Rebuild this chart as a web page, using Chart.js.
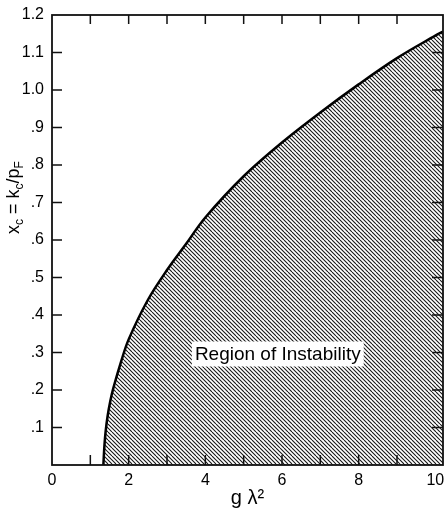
<!DOCTYPE html>
<html>
<head>
<meta charset="utf-8">
<script src="https://cdn.jsdelivr.net/npm/chart.js@4.4.1/dist/chart.umd.min.js"></script>
<style>
  body { margin: 0; background: #fff; }
  canvas { display: block; }
</style>
</head>
<body>
<canvas id="stabilityChart" width="445" height="515"></canvas>
<script>
// boundary curve (g*lambda^2 on x, x_c on y)
const gLambda2 = [1.34, 1.35, 1.37, 1.40, 1.45, 1.52, 1.6, 1.8, 2.0, 2.5, 3.0, 3.5, 4.0, 5.0, 6.0, 7.0, 8.0, 9.0, 10.0, 10.2];
const xcValues = [0, 0.02, 0.055, 0.09, 0.13, 0.17, 0.205, 0.275, 0.335, 0.44, 0.52, 0.59, 0.66, 0.77, 0.86, 0.94, 1.015, 1.085, 1.145, 1.156];

// axis ticks
const xLabelTicks = [0, 2, 4, 6, 8, 10];
const xMinorTicks = [1, 2, 3, 4, 5, 6, 7, 8, 9];
const yTickValues = [0.1, 0.2, 0.3, 0.4, 0.5, 0.6, 0.7, 0.8, 0.9, 1.0, 1.1, 1.2];
const yTickLabels = ['.1', '.2', '.3', '.4', '.5', '.6', '.7', '.8', '.9', '1.0', '1.1', '1.2'];

const regionLabel = 'Region of Instability';
const regionLabelAt = { x: 5.89, y: 0.296 };

const FONT = '"Liberation Sans", Arial, sans-serif';
Chart.defaults.font.family = FONT;
Chart.defaults.color = '#000';

// diagonal hatching for the unstable region
function makeHatch() {
  const c = document.createElement('canvas');
  c.width = 8; c.height = 8;
  const g = c.getContext('2d');
  g.strokeStyle = '#1a1a1a';
  g.lineWidth = 1.1;
  g.beginPath();
  for (let k = -8; k <= 8; k += 4) {
    g.moveTo(k, 0);
    g.lineTo(k + 8, 8);
  }
  g.stroke();
  return g.createPattern(c, 'repeat');
}

// frame with inward ticks, the region label and the y title
const frameAndLabels = {
  id: 'frameAndLabels',
  afterDatasetsDraw(chart) {
    const { ctx, chartArea: a, scales: { x, y } } = chart;
    ctx.save();
    ctx.strokeStyle = '#111';
    ctx.lineWidth = 1.8;
    ctx.strokeRect(a.left, a.top, a.right - a.left, a.bottom - a.top);

    ctx.lineWidth = 1.5;
    ctx.beginPath();
    xMinorTicks.forEach(v => {
      const px = x.getPixelForValue(v);
      ctx.moveTo(px, a.bottom); ctx.lineTo(px, a.bottom - 10);
      ctx.moveTo(px, a.top); ctx.lineTo(px, a.top + 9);
    });
    yTickValues.slice(0, -1).forEach(v => {
      const py = y.getPixelForValue(v);
      ctx.moveTo(a.left, py); ctx.lineTo(a.left + 10, py);
      ctx.moveTo(a.right, py); ctx.lineTo(a.right - 11, py);
    });
    ctx.stroke();

    // region label on a white box
    ctx.font = '19px ' + FONT;
    const tw = ctx.measureText(regionLabel).width;
    const cx = x.getPixelForValue(regionLabelAt.x);
    const cy = y.getPixelForValue(regionLabelAt.y);
    ctx.fillStyle = '#fff';
    ctx.fillRect(cx - tw / 2 - 3, cy - 12.5, tw + 6, 25);
    ctx.fillStyle = '#000';
    ctx.textAlign = 'center';
    ctx.textBaseline = 'middle';
    ctx.fillText(regionLabel, cx, cy + 1);

    // y title: x_c = k_c/p_F, rotated
    const parts = [['x', 0], ['c', 1], [' = k', 0], ['c', 1], ['/p', 0], ['F', 1]];
    const big = '18px ' + FONT, small = '12px ' + FONT;
    let total = 0;
    parts.forEach(p => { ctx.font = p[1] ? small : big; total += ctx.measureText(p[0]).width; });
    ctx.translate(13, y.getPixelForValue(0.713));
    ctx.rotate(-Math.PI / 2);
    ctx.textAlign = 'left';
    ctx.textBaseline = 'alphabetic';
    let pos = -total / 2;
    parts.forEach(p => {
      ctx.font = p[1] ? small : big;
      ctx.fillText(p[0], pos, p[1] ? 10 : 6);
      pos += ctx.measureText(p[0]).width;
    });
    ctx.restore();
  }
};

const ctx = document.getElementById('stabilityChart').getContext('2d');
new Chart(ctx, {
  type: 'line',
  data: {
    datasets: [{
      data: gLambda2.map((v, i) => ({ x: v, y: xcValues[i] })),
      borderColor: '#000',
      borderWidth: 2.5,
      pointRadius: 0,
      fill: 'origin',
      backgroundColor: makeHatch(),
      tension: 0.35
    }]
  },
  options: {
    responsive: false,
    animation: false,
    layout: { padding: { left: 0, right: 2, top: 15, bottom: 0 } },
    plugins: { legend: { display: false }, tooltip: { enabled: false } },
    scales: {
      x: {
        type: 'linear',
        min: 0,
        max: 10.2,
        grid: { display: false, drawTicks: false },
        border: { display: false },
        afterBuildTicks: axis => { axis.ticks = xLabelTicks.map(v => ({ value: v })); },
        ticks: { font: { size: 16 }, padding: 6, maxRotation: 0, autoSkip: false },
        title: { display: true, text: 'g λ²', font: { size: 20 }, padding: { top: 0, bottom: 5 } },
        afterFit: s => { s.height = 50; s.paddingLeft = 0; s.paddingRight = 0; }
      },
      y: {
        type: 'linear',
        min: 0,
        max: 1.2,
        grid: { display: false, drawTicks: false },
        border: { display: false },
        afterBuildTicks: axis => { axis.ticks = yTickValues.map(v => ({ value: v })); },
        ticks: { font: { size: 16 }, padding: 8, autoSkip: false, callback: (v, i) => yTickLabels[i] },
        afterFit: s => { s.width = 52; s.paddingTop = 0; s.paddingBottom = 0; }
      }
    }
  },
  plugins: [frameAndLabels]
});
</script>
</body>
</html>
